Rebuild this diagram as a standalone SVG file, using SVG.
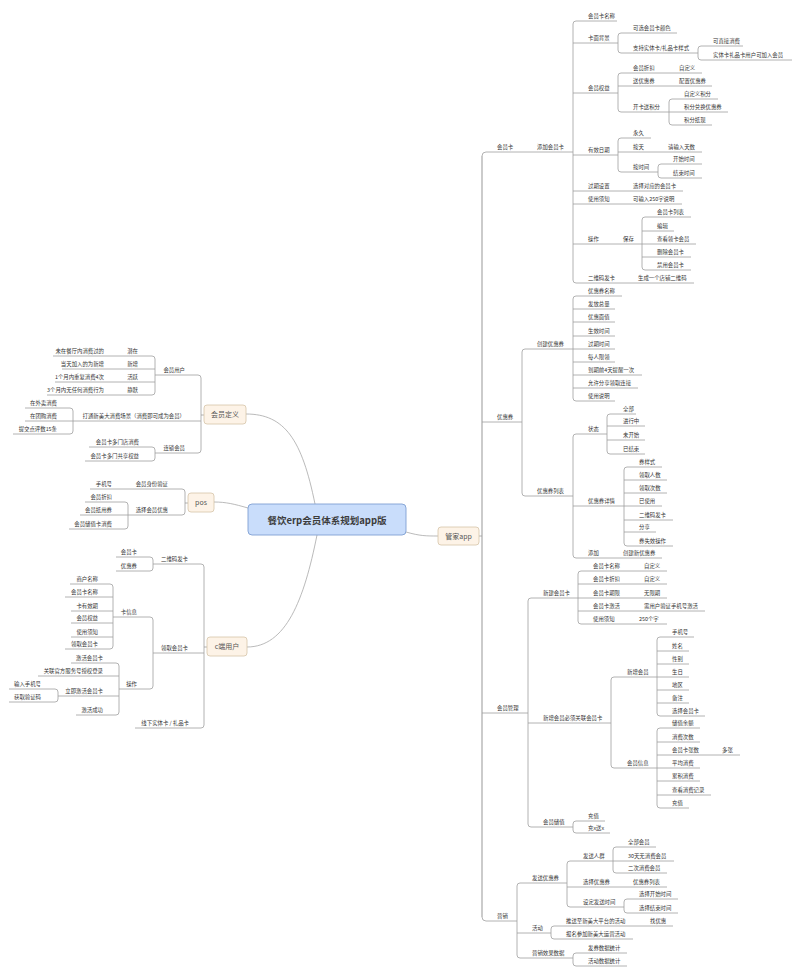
<svg xmlns="http://www.w3.org/2000/svg" width="800" height="974" viewBox="0 0 800 974">
<style>
.ln{fill:none;stroke:#a0a0a0;stroke-width:0.8}
.tk{fill:none;stroke:#c6c6c6;stroke-width:1.8}
.cv{fill:none;stroke:#a8a8a8;stroke-width:0.8}
text{font-family:"Noto Sans CJK SC","Noto Sans",sans-serif;fill:#333333}
.t text,text.t{font-size:5.4px}
.e{text-anchor:end}
.n1 rect{fill:#fdf3e7;stroke:#d6c4a8;stroke-width:0.8}
.n1 text{font-size:7px;fill:#555;text-anchor:middle}
.root rect{fill:#c9ddfb;stroke:#7f9fd3;stroke-width:0.9}
.root text{font-size:9.5px;font-weight:bold;fill:#3c3c3c;text-anchor:middle}
</style>
<rect width="800" height="974" fill="#ffffff"/>
<g id="connectors">
<path class="cv" d="M406 532 C420 536 426 536 438 536"/>
<path class="cv" d="M315 504 C302 440 285 414 246 414"/>
<path class="cv" d="M248 508 C234 504 226 502 214 502"/>
<path class="cv" d="M317 535 C304 600 286 647 247 647"/>
<path class="tk" d="M482 156 V917"/>
<path class="ln" d="M573 152 H486 Q482 152 482 156 M482 917 Q482 921 486 921 H517 M482 422 H522 M482 713 H528 M479 536 H482"/>
<path class="ln" d="M617 21 H576 Q573 21 573 24 V280 Q573 283 576 283 H694 M573 43 H618 M573 93 H618 M573 155 H618 M573 191 H683 M573 204 H682 M573 244 H642"/>
<path class="ln" d="M677 33 H621 Q618 33 618 36 V50 Q618 53 621 53 H698"/>
<path class="ln" d="M743 46 H701 Q698 46 698 49 V57 Q698 60 701 60 H792"/>
<path class="ln" d="M702 73 H621 Q618 73 618 76 V109 Q618 112 621 112 H669 M618 86 H712"/>
<path class="ln" d="M718 99 H672 Q669 99 669 102 V122 Q669 125 672 125 H712 M669 112 H728"/>
<path class="ln" d="M651 138 H621 Q618 138 618 141 V169 Q618 172 621 172 H658 M618 152 H702"/>
<path class="ln" d="M702 164 H661 Q658 164 658 167 V175 Q658 178 661 178 H702"/>
<path class="ln" d="M691 217 H645 Q642 217 642 220 V267 Q642 270 645 270 H691 M642 231 H674 M642 244 H696 M642 257 H691"/>
<path class="ln" d="M573 349 H525 Q522 349 522 352 V493 Q522 496 525 496 H573"/>
<path class="ln" d="M622 296 H576 Q573 296 573 299 V398 Q573 401 576 401 H615 M573 309 H615 M573 322 H615 M573 336 H615 M573 349 H615 M573 362 H615 M573 375 H642 M573 388 H638"/>
<path class="ln" d="M607 434 H576 Q573 434 573 437 V555 Q573 558 576 558 H662 M573 506 H624"/>
<path class="ln" d="M636 414 H610 Q607 414 607 417 V451 Q607 454 610 454 H645 M607 426 H645 M607 440 H645"/>
<path class="ln" d="M662 467 H627 Q624 467 624 470 V543 Q624 546 627 546 H673 M624 480 H667 M624 493 H667 M624 506 H662 M624 520 H673 M624 532 H656"/>
<path class="ln" d="M578 598 H531 Q528 598 528 601 V824 Q528 827 531 827 H573 M528 723 H611"/>
<path class="ln" d="M667 571 H581 Q578 571 578 574 V621 Q578 624 581 624 H667 M578 584 H667 M578 598 H667 M578 611 H705"/>
<path class="ln" d="M657 677 H614 Q611 677 611 680 V765 Q611 768 614 768 H657"/>
<path class="ln" d="M694 637 H660 Q657 637 657 640 V713 Q657 716 660 716 H705 M657 651 H689 M657 664 H689 M657 677 H689 M657 690 H689 M657 703 H689"/>
<path class="ln" d="M700 728 H660 Q657 728 657 731 V805 Q657 808 660 808 H689 M657 742 H700 M657 755 H740 M657 768 H700 M657 781 H700 M657 795 H711"/>
<path class="ln" d="M605 821 H576 Q573 821 573 824 V830 Q573 833 576 833 H610"/>
<path class="ln" d="M567 883 H520 Q517 883 517 886 V955 Q517 958 520 958 H573 M517 933 H551"/>
<path class="ln" d="M613 861 H570 Q567 861 567 864 V904 Q567 907 570 907 H624 M567 887 H667"/>
<path class="ln" d="M656 847 H616 Q613 847 613 850 V870 Q613 873 616 873 H667 M613 861 H674"/>
<path class="ln" d="M678 899 H627 Q624 899 624 902 V910 Q624 913 627 913 H678"/>
<path class="ln" d="M673 926 H554 Q551 926 551 929 V936 Q551 939 554 939 H633"/>
<path class="ln" d="M627 953 H576 Q573 953 573 956 V963 Q573 966 576 966 H627"/>
<path class="ln" d="M155 375 H198 Q201 375 201 378 V450 Q201 453 198 453 H155 M201 421 H73 M204 415 H201"/>
<path class="ln" d="M53 356 H152 Q155 356 155 359 V392 Q155 395 152 395 H47 M155 369 H62 M155 382 H55"/>
<path class="ln" d="M25 408 H70 Q73 408 73 411 V431 Q73 434 70 434 H13 M73 421 H25"/>
<path class="ln" d="M89 447 H152 Q155 447 155 450 V458 Q155 461 152 461 H85"/>
<path class="ln" d="M90 489 H182 Q185 489 185 492 V512 Q185 515 182 515 H128 M188 503 H185"/>
<path class="ln" d="M85 502 H125 Q128 502 128 505 V526 Q128 529 125 529 H69 M128 515 H80"/>
<path class="ln" d="M153 564 H201 Q204 564 204 567 V725 Q204 728 201 728 H135 M204 653 H153 M207 647 H204"/>
<path class="ln" d="M116 557 H150 Q153 557 153 560 V568 Q153 571 150 571 H116"/>
<path class="ln" d="M113 617 H150 Q153 617 153 620 V686 Q153 689 150 689 H119"/>
<path class="ln" d="M70 584 H110 Q113 584 113 587 V646 Q113 649 110 649 H65 M113 597 H65 M113 611 H71 M113 623 H71 M113 637 H71"/>
<path class="ln" d="M71 663 H116 Q119 663 119 666 V712 Q119 715 116 715 H76 M119 676 H38 M119 696 H58"/>
<path class="ln" d="M9 689 H55 Q58 689 58 692 V699 Q58 702 55 702 H9"/>
</g>
<g id="root" class="root"><rect x="248" y="504" width="158" height="31" rx="4"/><text x="327" y="523.5">餐饮erp会员体系规划app版</text></g>
<g id="n-guanjia" class="n1"><rect x="438" y="527" width="41" height="18" rx="3"/><text x="458.5" y="538.5">管家app</text></g>
<g id="n-huiyuandingyi" class="n1"><rect x="204" y="405" width="42" height="19" rx="3"/><text x="225" y="417">会员定义</text></g>
<g id="n-pos" class="n1"><rect x="188" y="493" width="26" height="19" rx="3"/><text x="201" y="505">pos</text></g>
<g id="n-cduan" class="n1"><rect x="207" y="637" width="40" height="19" rx="3"/><text x="227" y="649">c端用户</text></g>
<g id="right-huiyuanka" class="t">
<text x="497" y="148.5">会员卡</text>
<text x="537" y="148.5">添加会员卡</text>
<text x="588" y="17.5">会员卡名称</text>
<text x="588" y="39.5">卡面背景</text>
<text x="633" y="29.5">可选会员卡颜色</text>
<text x="633" y="49.5">支持实体卡/礼品卡样式</text>
<text x="713" y="42.5">可直接消费</text>
<text x="713" y="56.5">实体卡礼品卡用户可加入会员</text>
<text x="588" y="89.5">会员权益</text>
<text x="633" y="69.5">会员折扣</text>
<text x="679" y="69.5">自定义</text>
<text x="633" y="82.5">送优惠券</text>
<text x="679" y="82.5">配置优惠券</text>
<text x="633" y="108.5">开卡送积分</text>
<text x="684" y="95.5">自定义积分</text>
<text x="684" y="108.5">积分兑换优惠券</text>
<text x="684" y="121.5">积分抵现</text>
<text x="588" y="151.5">有效日期</text>
<text x="633" y="134.5">永久</text>
<text x="633" y="148.5">按天</text>
<text x="668" y="148.5">请输入天数</text>
<text x="633" y="168.5">按时间</text>
<text x="673" y="160.5">开始时间</text>
<text x="673" y="174.5">结束时间</text>
<text x="588" y="187.5">过期设置</text>
<text x="633" y="187.5">选择对应的会员卡</text>
<text x="588" y="200.5">使用须知</text>
<text x="633" y="200.5">可输入250字说明</text>
<text x="588" y="240.5">操作</text>
<text x="623" y="240.5">保存</text>
<text x="657" y="213.5">会员卡列表</text>
<text x="657" y="227.5">编辑</text>
<text x="657" y="240.5">查看领卡会员</text>
<text x="657" y="253.5">删除会员卡</text>
<text x="657" y="266.5">禁用会员卡</text>
<text x="588" y="279.5">二维码发卡</text>
<text x="638" y="279.5">生成一个店铺二维码</text>
</g>
<g id="right-youhuiquan" class="t">
<text x="497" y="418.5">优惠券</text>
<text x="537" y="345.5">创建优惠券</text>
<text x="588" y="292.5">优惠券名称</text>
<text x="588" y="305.5">发放总量</text>
<text x="588" y="318.5">优惠面值</text>
<text x="588" y="332.5">生效时间</text>
<text x="588" y="345.5">过期时间</text>
<text x="588" y="358.5">每人限领</text>
<text x="588" y="371.5">到期前4天提醒一次</text>
<text x="588" y="384.5">允许分享领取连接</text>
<text x="588" y="397.5">使用说明</text>
<text x="537" y="492.5">优惠券列表</text>
<text x="588" y="430.5">状态</text>
<text x="623" y="410.5">全部</text>
<text x="623" y="422.5">进行中</text>
<text x="623" y="436.5">未开始</text>
<text x="623" y="450.5">已结束</text>
<text x="588" y="502.5">优惠券详情</text>
<text x="639" y="463.5">券样式</text>
<text x="639" y="476.5">领取人数</text>
<text x="639" y="489.5">领取次数</text>
<text x="639" y="502.5">已使用</text>
<text x="639" y="516.5">二维码发卡</text>
<text x="639" y="528.5">分享</text>
<text x="639" y="542.5">券失效操作</text>
<text x="588" y="554.5">添加</text>
<text x="623" y="554.5">创建新优惠券</text>
</g>
<g id="right-huiyuanguanli" class="t">
<text x="497" y="709.5">会员管理</text>
<text x="543" y="594.5">新建会员卡</text>
<text x="593" y="567.5">会员卡名称</text>
<text x="644" y="567.5">自定义</text>
<text x="593" y="580.5">会员卡折扣</text>
<text x="644" y="580.5">自定义</text>
<text x="593" y="594.5">会员卡期限</text>
<text x="644" y="594.5">无限期</text>
<text x="593" y="607.5">会员卡激活</text>
<text x="644" y="607.5">需用户验证手机号激活</text>
<text x="593" y="620.5">使用须知</text>
<text x="639" y="620.5">250个字</text>
<text x="543" y="719.5">新增会员必须关联会员卡</text>
<text x="627" y="673.5">新增会员</text>
<text x="672" y="633.5">手机号</text>
<text x="672" y="647.5">姓名</text>
<text x="672" y="660.5">性别</text>
<text x="672" y="673.5">生日</text>
<text x="672" y="686.5">地区</text>
<text x="672" y="699.5">备注</text>
<text x="672" y="712.5">选择会员卡</text>
<text x="627" y="764.5">会员信息</text>
<text x="672" y="724.5">储值余额</text>
<text x="672" y="738.5">消费次数</text>
<text x="672" y="751.5">会员卡张数</text>
<text x="722" y="751.5">多张</text>
<text x="672" y="764.5">平均消费</text>
<text x="672" y="777.5">累积消费</text>
<text x="672" y="791.5">查看消费记录</text>
<text x="672" y="804.5">充值</text>
<text x="543" y="823.5">会员储值</text>
<text x="588" y="817.5">充值</text>
<text x="588" y="829.5">充x送x</text>
</g>
<g id="right-yingxiao" class="t">
<text x="497" y="917.5">营销</text>
<text x="532" y="879.5">发送优惠券</text>
<text x="583" y="857.5">发送人群</text>
<text x="628" y="843.5">全部会员</text>
<text x="628" y="857.5">30天无消费会员</text>
<text x="628" y="869.5">二次消费会员</text>
<text x="583" y="883.5">选择优惠券</text>
<text x="633" y="883.5">优惠券列表</text>
<text x="583" y="903.5">设定发送时间</text>
<text x="639" y="895.5">选择开始时间</text>
<text x="639" y="909.5">选择结束时间</text>
<text x="532" y="929.5">活动</text>
<text x="566" y="922.5">推送至新美大平台的活动</text>
<text x="650" y="922.5">找优惠</text>
<text x="566" y="935.5">报名参加新美大运营活动</text>
<text x="532" y="954.5">营销效果数据</text>
<text x="588" y="949.5">发券数据统计</text>
<text x="588" y="962.5">活动数据统计</text>
</g>
<g id="left-huiyuandingyi" class="t">
<text class="e" x="185" y="371.5">会员用户</text>
<text class="e" x="138" y="352.5">潜在</text>
<text class="e" x="104" y="352.5">未在餐厅内消费过的</text>
<text class="e" x="138" y="365.5">新增</text>
<text class="e" x="104" y="365.5">当天加入的为新增</text>
<text class="e" x="138" y="378.5">活跃</text>
<text class="e" x="104" y="378.5">1个月内重复消费4次</text>
<text class="e" x="138" y="391.5">静默</text>
<text class="e" x="104" y="391.5">3个月内无任何消费行为</text>
<text class="e" x="185" y="417.5">打通新美大消费场景（消费即可成为会员）</text>
<text class="e" x="57" y="404.5">在外卖消费</text>
<text class="e" x="57" y="417.5">在团购消费</text>
<text class="e" x="57" y="430.5">提交点评数15条</text>
<text class="e" x="185" y="449.5">连锁会员</text>
<text class="e" x="139" y="443.5">会员卡多门店消费</text>
<text class="e" x="139" y="457.5">会员卡多门共享权益</text>
</g>
<g id="left-pos" class="t">
<text class="e" x="168" y="485.5">会员身份验证</text>
<text class="e" x="112" y="485.5">手机号</text>
<text class="e" x="168" y="511.5">选择会员优惠</text>
<text class="e" x="112" y="498.5">会员折扣</text>
<text class="e" x="112" y="511.5">会员抵用券</text>
<text class="e" x="112" y="525.5">会员储值卡消费</text>
</g>
<g id="left-cduan" class="t">
<text class="e" x="188" y="560.5">二维码发卡</text>
<text class="e" x="137" y="553.5">会员卡</text>
<text class="e" x="137" y="567.5">优惠券</text>
<text class="e" x="188" y="649.5">领取会员卡</text>
<text class="e" x="137" y="613.5">卡信息</text>
<text class="e" x="98" y="580.5">商户名称</text>
<text class="e" x="98" y="593.5">会员卡名称</text>
<text class="e" x="98" y="607.5">卡有效期</text>
<text class="e" x="98" y="619.5">会员权益</text>
<text class="e" x="98" y="633.5">使用须知</text>
<text class="e" x="98" y="645.5">领取会员卡</text>
<text class="e" x="137" y="685.5">操作</text>
<text class="e" x="103" y="659.5">激活会员卡</text>
<text class="e" x="103" y="672.5">关联官方服务号授权登录</text>
<text class="e" x="103" y="692.5">立即激活会员卡</text>
<text class="e" x="41" y="685.5">输入手机号</text>
<text class="e" x="41" y="698.5">获取验证码</text>
<text class="e" x="103" y="711.5">激活成功</text>
<text class="e" x="189" y="724.5">线下实体卡 / 礼品卡</text>
</g>
</svg>
